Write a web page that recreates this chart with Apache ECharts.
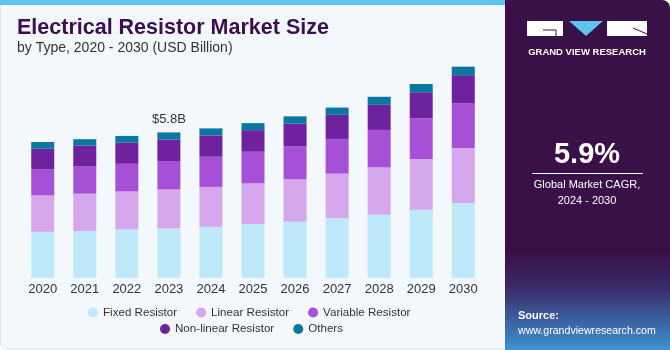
<!DOCTYPE html>
<html>
<head>
<meta charset="utf-8">
<script src="https://cdn.jsdelivr.net/npm/echarts@6/dist/echarts.min.js"></script>
<style>
html,body{margin:0;padding:0;background:#ffffff;}
#chart{width:670px;height:350px;}
</style>
</head>
<body>
<div id="chart"></div>
<script>
var years = ['2020','2021','2022','2023','2024','2025','2026','2027','2028','2029','2030'];
var fixedResistor     = [1.84, 1.87, 1.94, 1.98, 2.04, 2.15, 2.24, 2.38, 2.52, 2.72, 2.99];
var linearResistor    = [1.45, 1.49, 1.51, 1.55, 1.59, 1.62, 1.70, 1.78, 1.89, 2.02, 2.19];
var variableResistor  = [1.04, 1.08, 1.10, 1.13, 1.20, 1.26, 1.31, 1.38, 1.49, 1.62, 1.78];
var nonlinearResistor = [0.82, 0.84, 0.84, 0.86, 0.85, 0.86, 0.90, 0.96, 1.00, 1.04, 1.12];
var others            = [0.27, 0.25, 0.27, 0.28, 0.28, 0.28, 0.29, 0.29, 0.32, 0.33, 0.34];
var seriesNames = ['Fixed Resistor','Linear Resistor','Variable Resistor','Non-linear Resistor','Others'];
var seriesColors = ['#bde9f9','#d5a7ec','#a550d6','#6e229e','#0b76a0'];
var highlightIndex = 3;
var highlightLabel = '$5.8B';

var chart = echarts.init(document.getElementById('chart'), null, {renderer:'canvas'});
var FONT = '"Liberation Sans", Arial, sans-serif';
var seriesData = [fixedResistor, linearResistor, variableResistor, nonlinearResistor, others];

var series = seriesData.map(function(arr, i){
  return {
    name: seriesNames[i],
    type: 'bar',
    stack: 'total',
    barWidth: 23,
    itemStyle: {color: seriesColors[i]},
    data: arr.map(function(v, j){
      if (i === seriesData.length - 1 && j === highlightIndex) {
        return {value: v, label: {show: true, position: 'top', distance: 6, formatter: highlightLabel,
          color: '#333333', fontSize: 13, fontFamily: FONT}};
      }
      return v;
    })
  };
});

var option = {
  animation: false,
  backgroundColor: '#ffffff',
  textStyle: {fontFamily: FONT},
  graphic: [
    {type:'rect', z:-10, shape:{x:0.5, y:0.5, width:520, height:348.5, r:[0,0,0,6]},
      style:{fill:'#f3f8fc', stroke:'#dde5ec', lineWidth:1}},
    {type:'rect', z:-9, shape:{x:0, y:0, width:506, height:5}, style:{fill:'#5ec3ee'}},
    {type:'rect', z:-8, shape:{x:505, y:0, width:165, height:350, r:[0,8,0,0]},
      style:{fill:{type:'linear', x:0, y:0, x2:0, y2:1, colorStops:[
        {offset:0, color:'#3a1048'}, {offset:0.72, color:'#3a1048'},
        {offset:0.82, color:'#3a2a68'}, {offset:1, color:'#3f92d2'}]}}},
    // logo
    {type:'rect', shape:{x:527, y:21, width:36, height:15}, style:{fill:'#ffffff'}},
    {type:'line', shape:{x1:543, y1:30, x2:556, y2:30}, style:{stroke:'#3a1048', lineWidth:1}},
    {type:'line', shape:{x1:556, y1:30, x2:556, y2:36}, style:{stroke:'#3a1048', lineWidth:1}},
    {type:'polygon', shape:{points:[[569,21],[603,21],[586,36]]}, style:{fill:'#5ec3ee'}},
    {type:'rect', shape:{x:607, y:21, width:40, height:15}, style:{fill:'#ffffff'}},
    {type:'line', shape:{x1:633, y1:28, x2:647, y2:34}, style:{stroke:'#3a1048', lineWidth:1}},
    {type:'text', style:{x:587, y:52, text:'GRAND VIEW RESEARCH', fill:'#ffffff', font:'bold 9.5px '+FONT, textAlign:'center', textVerticalAlign:'middle'}},
    {type:'text', style:{x:587, y:155, text:'5.9%', fill:'#ffffff', font:'bold 29px '+FONT, textAlign:'center', textVerticalAlign:'middle'}},
    {type:'line', shape:{x1:532, y1:173.5, x2:643, y2:173.5}, style:{stroke:'#ffffff', lineWidth:1}},
    {type:'text', style:{x:587, y:185, text:'Global Market CAGR,', fill:'#ffffff', font:'11px '+FONT, textAlign:'center', textVerticalAlign:'middle'}},
    {type:'text', style:{x:587, y:201, text:'2024 - 2030', fill:'#ffffff', font:'11px '+FONT, textAlign:'center', textVerticalAlign:'middle'}},
    {type:'text', style:{x:518, y:316, text:'Source:', fill:'#ffffff', font:'bold 11px '+FONT, textAlign:'left', textVerticalAlign:'middle'}},
    {type:'text', style:{x:518, y:331, text:'www.grandviewresearch.com', fill:'#ffffff', font:'10.6px '+FONT, textAlign:'left', textVerticalAlign:'middle'}},
    // titles
    {type:'text', style:{x:17, y:27.8, text:'Electrical Resistor Market Size', fill:'#3a1050', font:'900 21.5px '+FONT, textAlign:'left', textVerticalAlign:'middle'}},
    {type:'text', style:{x:17, y:48.4, text:'by Type, 2020 - 2030 (USD Billion)', fill:'#333333', font:'14px '+FONT, textAlign:'left', textVerticalAlign:'middle'}}
  ],
  legend: [
    {data: seriesNames.slice(0,3), left: 83, top: 301.5, itemWidth: 10, itemHeight: 10, itemGap: 19, icon: 'circle',
      textStyle:{fontSize:11.6, color:'#333333', fontFamily: FONT}},
    {data: seriesNames.slice(3), left: 155, top: 318, itemWidth: 10, itemHeight: 10, itemGap: 19, icon: 'circle',
      textStyle:{fontSize:11.6, color:'#333333', fontFamily: FONT}}
  ],
  grid: {left: 21.7, right: 185.7, top: 27, bottom: 72, containLabel: false},
  xAxis: {
    type: 'category', data: years,
    axisLine: {show: false}, axisTick: {show: false},
    axisLabel: {color: '#333333', fontSize: 13, margin: 5, fontFamily: FONT}
  },
  yAxis: {type: 'value', min: 0, max: 10, show: false, splitLine: {show: false}},
  series: series
};
chart.setOption(option);
</script>
</body>
</html>
